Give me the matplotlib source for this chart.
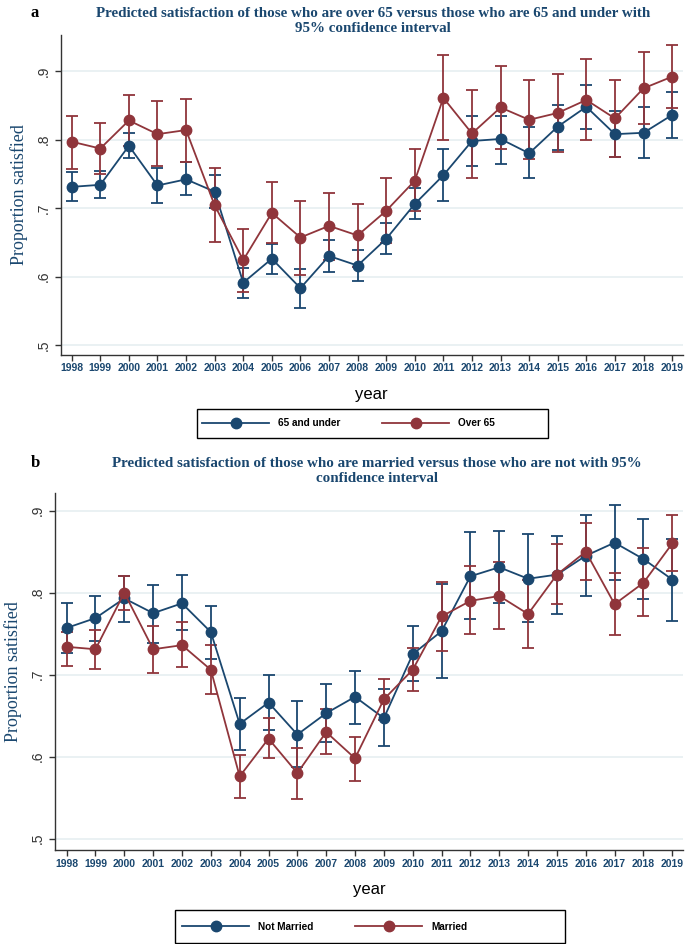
import numpy as np
import matplotlib.pyplot as plt
from matplotlib.lines import Line2D

years = list(range(1998, 2020))

# panel a: age groups
under65 = [0.731, 0.734, 0.791, 0.733, 0.742, 0.724, 0.591, 0.626, 0.583, 0.630, 0.616,
           0.655, 0.706, 0.748, 0.798, 0.801, 0.780, 0.819, 0.848, 0.808, 0.810, 0.836]
under65_hi = [0.752, 0.754, 0.810, 0.759, 0.767, 0.749, 0.613, 0.648, 0.611, 0.654, 0.639,
              0.678, 0.729, 0.786, 0.835, 0.835, 0.818, 0.851, 0.880, 0.842, 0.848, 0.869]
under65_lo = [0.711, 0.715, 0.773, 0.708, 0.719, 0.700, 0.569, 0.603, 0.554, 0.607, 0.594,
              0.633, 0.684, 0.710, 0.762, 0.765, 0.744, 0.785, 0.816, 0.775, 0.773, 0.803]
over65 = [0.797, 0.787, 0.828, 0.808, 0.814, 0.704, 0.624, 0.693, 0.657, 0.674, 0.660,
          0.696, 0.740, 0.861, 0.809, 0.847, 0.829, 0.839, 0.858, 0.831, 0.875, 0.892]
over65_hi = [0.835, 0.824, 0.865, 0.856, 0.860, 0.758, 0.670, 0.738, 0.711, 0.722, 0.706,
             0.744, 0.786, 0.924, 0.873, 0.908, 0.887, 0.896, 0.918, 0.887, 0.928, 0.938]
over65_lo = [0.757, 0.750, 0.790, 0.761, 0.767, 0.650, 0.578, 0.649, 0.602, 0.624, 0.614,
             0.649, 0.695, 0.799, 0.744, 0.787, 0.771, 0.782, 0.800, 0.775, 0.823, 0.846]

# panel b: marital status
notmarried = [0.757, 0.769, 0.793, 0.775, 0.787, 0.752, 0.640, 0.666, 0.627, 0.653, 0.673,
              0.647, 0.725, 0.753, 0.820, 0.831, 0.817, 0.822, 0.845, 0.861, 0.841, 0.816]
notmarried_hi = [0.787, 0.796, 0.820, 0.809, 0.821, 0.784, 0.672, 0.700, 0.668, 0.689, 0.705,
                 0.682, 0.759, 0.811, 0.874, 0.875, 0.871, 0.869, 0.895, 0.907, 0.890, 0.866]
notmarried_lo = [0.727, 0.741, 0.764, 0.739, 0.754, 0.719, 0.608, 0.633, 0.588, 0.618, 0.640,
                 0.613, 0.692, 0.696, 0.768, 0.787, 0.764, 0.774, 0.796, 0.816, 0.792, 0.765]
married = [0.734, 0.731, 0.800, 0.731, 0.736, 0.706, 0.576, 0.622, 0.580, 0.630, 0.598,
           0.670, 0.706, 0.771, 0.790, 0.796, 0.774, 0.822, 0.850, 0.786, 0.812, 0.860]
married_hi = [0.752, 0.754, 0.820, 0.759, 0.764, 0.736, 0.602, 0.647, 0.611, 0.658, 0.624,
              0.695, 0.733, 0.813, 0.832, 0.837, 0.815, 0.859, 0.885, 0.824, 0.854, 0.895]
married_lo = [0.711, 0.707, 0.779, 0.702, 0.709, 0.677, 0.550, 0.598, 0.549, 0.603, 0.570,
              0.645, 0.680, 0.729, 0.750, 0.756, 0.733, 0.786, 0.816, 0.748, 0.772, 0.826]

BLUE = '#1a476f'
RED = '#90353b'
GRID = '#e6eff1'


def draw_series(ax, y, lo, hi, color):
    y = np.array(y)
    err = [y - np.array(lo), np.array(hi) - y]
    ax.errorbar(years, y, yerr=err, fmt='none', ecolor=color, elinewidth=1.3,
                capsize=4.5, capthick=1.3, zorder=2)
    ax.plot(years, y, color=color, lw=1.3, marker='o', ms=7.5, zorder=3)


def style_axes(ax, ylim, xlim):
    ax.set_xlim(*xlim)
    ax.set_ylim(*ylim)
    ax.set_yticks([0.5, 0.6, 0.7, 0.8, 0.9])
    ax.set_yticklabels(['.5', '.6', '.7', '.8', '.9'], rotation=90, va='center',
                       fontsize=10, color='#333333')
    ax.set_xticks(years)
    ax.set_xticklabels([str(y) for y in years], fontsize=7.5, fontweight='bold',
                       color=BLUE, family='Liberation Sans')
    ax.grid(axis='y', color=GRID, lw=1.2)
    ax.set_axisbelow(True)
    for s in ['top', 'right']:
        ax.spines[s].set_visible(False)
    for s in ['left', 'bottom']:
        ax.spines[s].set_color('#333333')
        ax.spines[s].set_linewidth(1.0)
    ax.tick_params(axis='both', length=4, color='#333333', width=1.0)
    ax.tick_params(axis='x', pad=2)
    ax.set_ylabel('Proportion satisfied', family='Liberation Serif', fontsize=13,
                  color=BLUE, labelpad=6)
    ax.set_xlabel('year', fontsize=12, family='Liberation Sans', labelpad=10)


plt.rcParams['font.family'] = ['Liberation Sans', 'DejaVu Sans']
fig = plt.figure(figsize=(6.85, 9.44), dpi=100)

# panel a
ax1 = fig.add_axes([0.0886, 0.624, 0.908, 0.339])
draw_series(ax1, under65, under65_lo, under65_hi, BLUE)
draw_series(ax1, over65, over65_lo, over65_hi, RED)
style_axes(ax1, (0.4854, 0.953), (1997.615, 2019.37))

# panel b
ax2 = fig.add_axes([0.080, 0.0993, 0.917, 0.3785])
draw_series(ax2, notmarried, notmarried_lo, notmarried_hi, BLUE)
draw_series(ax2, married, married_lo, married_hi, RED)
style_axes(ax2, (0.4859, 0.9216), (1997.59, 2019.37))

title_kw = dict(family='Liberation Serif', fontweight='bold', fontsize=10.8,
                color=BLUE, ha='center', va='top', linespacing=1.2)
fig.text(0.545, 0.993, 'Predicted satisfaction of those who are over 65 versus those who are 65 and under with\n95% confidence interval', **title_kw)
fig.text(0.55, 0.516, 'Predicted satisfaction of those who are married versus those who are not with 95%\nconfidence interval', **title_kw)
fig.text(0.045, 0.995, 'a', family='Liberation Serif', fontweight='bold', fontsize=12, va='top')
fig.text(0.045, 0.518, 'b', family='Liberation Serif', fontweight='bold', fontsize=12, va='top')


def add_legend(labels, x0, x1, y0, y1, hx):
    handles = [Line2D([], [], color=BLUE, lw=1.3, marker='o', ms=7.5),
               Line2D([], [], color=RED, lw=1.3, marker='o', ms=7.5)]
    fig.legend(handles, labels, loc='center left', ncol=2,
               bbox_to_anchor=(hx / 685, 1 - (y0 + y1) / 2 / 944),
               frameon=False, prop={'weight': 'bold', 'size': 7.2},
               handlelength=6.7, handletextpad=0.9, columnspacing=4.2,
               borderaxespad=0, borderpad=0)
    fig.add_artist(plt.Rectangle((x0 / 685, 1 - y1 / 944), (x1 - x0) / 685, (y1 - y0) / 944,
                                 transform=fig.transFigure, fill=False,
                                 edgecolor='black', lw=1.0))


add_legend(['65 and under', 'Over 65'], 197, 548, 409, 438, 202)
add_legend(['Not Married', 'Married'], 175, 565, 910, 943, 182)

fig.savefig('out.png', dpi=100)
